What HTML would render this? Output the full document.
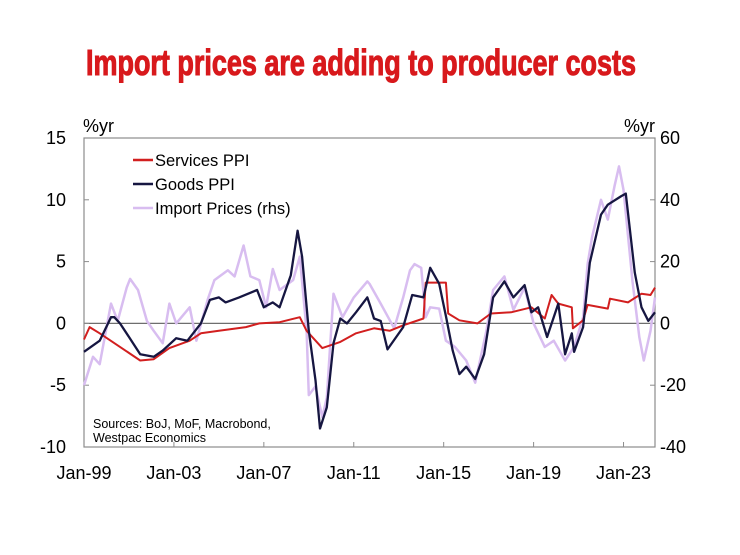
<!DOCTYPE html>
<html><head><meta charset="utf-8"><style>
body{margin:0;background:#fff;}
svg{display:block;font-family:"Liberation Sans",sans-serif;}
</style></head><body>
<svg id="chart" width="740" height="555" viewBox="0 0 740 555">
<text x="361" y="75" text-anchor="middle" font-family="'Liberation Sans Narrow','Liberation Sans',sans-serif" font-weight="bold" font-size="36" fill="#d8191c" stroke="#d8191c" stroke-width="1.1" textLength="550" lengthAdjust="spacingAndGlyphs">Import prices are adding to producer costs</text>
<g id="axes"></g>
<g id="series"></g>
<g>
<line x1="133" y1="160" x2="153" y2="160" stroke="#d21f1f" stroke-width="2.5"/>
<text x="155" y="166" font-size="16.5">Services PPI</text>
<line x1="133" y1="184" x2="153" y2="184" stroke="#161641" stroke-width="2.5"/>
<text x="155" y="190" font-size="16.5">Goods PPI</text>
<line x1="133" y1="208" x2="153" y2="208" stroke="#d8bdf0" stroke-width="2.5"/>
<text x="155" y="214" font-size="16.5">Import Prices (rhs)</text>
</g>
<text x="93" y="428" font-size="12.5">Sources: BoJ, MoF, Macrobond,</text>
<text x="93" y="442" font-size="12.5">Westpac Economics</text>
<text x="83" y="132" font-size="18">%yr</text>
<text x="655" y="132" font-size="18" text-anchor="end">%yr</text>
</svg>
<script>
const leftTicks=[15,10,5,0,-5,-10];
const rightTicks=["60","40","20","0","-20","-40"];
const xTickYears=[1999,2003,2007,2011,2015,2019,2023];
const xTickLabels=["Jan-99","Jan-03","Jan-07","Jan-11","Jan-15","Jan-19","Jan-23"];

const servicesDates=[1999,1999.25,1999.7,2001.5,2002.1,2002.8,2003.7,2004.2,2005,2006.2,2006.8,2007.7,2008.6,2008.9,2009.6,2010.4,2011.1,2011.9,2012.6,2013.2,2014.1,2014.2,2015.1,2015.2,2015.7,2016.5,2017.1,2018.0,2018.9,2019.5,2019.8,2020.1,2020.7,2020.75,2021.2,2021.4,2022.3,2022.4,2023.2,2023.8,2024.2,2024.4];
const servicesValues=[-1.3,-0.3,-0.8,-3.0,-2.9,-2.0,-1.4,-0.8,-0.6,-0.3,0,0.1,0.5,-0.6,-2.0,-1.5,-0.8,-0.4,-0.6,-0.15,0.4,3.3,3.3,0.8,0.25,0,0.8,0.9,1.3,0.4,2.3,1.6,1.3,-0.4,0.25,1.5,1.2,2.0,1.7,2.4,2.3,2.9];

const goodsDates=[1999,1999.7,2000.2,2000.35,2000.6,2001.0,2001.5,2002.1,2002.5,2003.1,2003.6,2004.2,2004.6,2005.0,2005.3,2005.9,2006.7,2007.0,2007.4,2007.7,2008.2,2008.5,2008.7,2009.0,2009.3,2009.5,2009.8,2010.1,2010.4,2010.7,2011.1,2011.6,2011.75,2011.9,2012.2,2012.5,2013.2,2013.6,2014.1,2014.4,2014.8,2015.1,2015.4,2015.7,2016.0,2016.4,2016.8,2017.2,2017.7,2018.1,2018.6,2018.9,2019.2,2019.6,2020.1,2020.4,2020.7,2020.8,2021.2,2021.5,2022.0,2022.3,2022.9,2023.1,2023.5,2023.8,2024.1,2024.4];
const goodsValues=[-2.3,-1.4,0.5,0.5,0,-1.1,-2.5,-2.7,-2.2,-1.2,-1.4,0,1.9,2.1,1.7,2.1,2.7,1.3,1.7,1.3,3.9,7.5,5.4,-0.6,-4.6,-8.5,-6.8,-1.6,0.4,0,0.9,2.1,1.3,0.4,0.2,-2.1,-0.3,2.3,2.1,4.5,3.2,0.6,-2.2,-4.1,-3.5,-4.5,-2.5,2.1,3.4,2.1,3.1,0.9,1.3,-1.1,1.6,-2.5,-0.8,-2.3,-0.3,4.9,8.8,9.6,10.3,10.5,4.1,1.3,0.2,0.9];

const importDates=[1999,1999.4,1999.7,2000.2,2000.5,2000.9,2001.05,2001.4,2001.8,2002.1,2002.5,2002.8,2003.1,2003.7,2004.0,2004.5,2004.8,2005.4,2005.7,2006.1,2006.4,2006.8,2007.1,2007.4,2007.7,2008.3,2008.6,2008.9,2009.0,2009.3,2009.6,2009.8,2010.1,2010.5,2011.0,2011.6,2011.7,2012.2,2012.8,2013.2,2013.5,2013.7,2014.0,2014.2,2014.4,2014.8,2015.1,2015.5,2016.0,2016.4,2016.9,2017.2,2017.7,2018.1,2018.6,2019.0,2019.5,2019.9,2020.4,2020.8,2021.2,2021.4,2021.6,2022.0,2022.3,2022.6,2022.8,2023.0,2023.4,2023.7,2023.9,2024.2,2024.4];
const importValues=[-20,-10.8,-13.2,6.4,0.8,11.6,14.4,10.8,0.8,-2.4,-6.4,6.4,0,5.2,-5.6,7.6,14,17.2,15.2,25.2,15.2,14,5.2,17.6,10.8,14,21.6,-2.4,-23.2,-20.4,-30.4,-24,9.6,2,8.4,13.6,12.8,6.4,-1.6,8.4,17.2,19.2,18,2,5.2,4.8,-5.6,-7.6,-12,-19.2,-2.4,10.8,15.2,4.4,11.6,0,-7.6,-5.6,-12,-7.6,2,19.2,28,40,33.6,44.4,50.8,43.2,13.6,-4.4,-12,-2.4,8.4];

const X0=84,X1=655,Y0=138,Y1=447;
const xScale=t=>X0+(t-1999)*(X1-X0)/25.4;
const yL=v=>Y0+(15-v)*(Y1-Y0)/25;
const yR=v=>yL(v/4);
const NS="http://www.w3.org/2000/svg";
function mk(tag,attrs,parent){const e=document.createElementNS(NS,tag);for(const k in attrs)e.setAttribute(k,attrs[k]);parent.appendChild(e);return e;}
const ax=document.getElementById('axes');
const frame=mk('rect',{x:X0,y:Y0,width:X1-X0,height:Y1-Y0,fill:'none',stroke:'#8c8c8c','stroke-width':1.2},ax);


const zl=mk('line',{x1:X0,x2:X1,y1:yL(0),y2:yL(0),stroke:'#6e6e6e','stroke-width':1.3},ax);


leftTicks.forEach((v,i)=>{
  const y=yL(v);
  mk('line',{x1:X0,x2:X0+5,y1:y,y2:y,stroke:'#8c8c8c'},ax);
  mk('line',{x1:X1-5,x2:X1,y1:y,y2:y,stroke:'#8c8c8c'},ax);
  const t=mk('text',{x:66,y:y+6,'text-anchor':'end','font-size':18},ax);t.textContent=v;
  
  
  const r=mk('text',{x:660,y:y+6,'font-size':18},ax);r.textContent=rightTicks[i];
  
  
});
xTickYears.forEach((yr,i)=>{
  const x=xScale(yr);
  mk('line',{x1:x,x2:x,y1:Y1,y2:Y1-5,stroke:'#8c8c8c'},ax);
  const t=mk('text',{x:x,y:479,'text-anchor':'middle','font-size':18},ax);t.textContent=xTickLabels[i];
  
  
});
const sg=document.getElementById('series');
function line(dates,vals,ys,color,w,name){
  const d=dates.map((t,i)=>(i?'L':'M')+xScale(t).toFixed(1)+','+ys(vals[i]).toFixed(1)).join(' ');
  const p=mk('path',{d:d,fill:'none',stroke:color,'stroke-width':w,'stroke-linejoin':'round'},sg);
  
  
}
line(importDates,importValues,yR,'#d8bdf0',2.5,'import-prices-line');
line(servicesDates,servicesValues,yL,'#d21f1f',2,'services-ppi-line');
line(goodsDates,goodsValues,yL,'#161641',2.3,'goods-ppi-line');
</script>
</body></html>
